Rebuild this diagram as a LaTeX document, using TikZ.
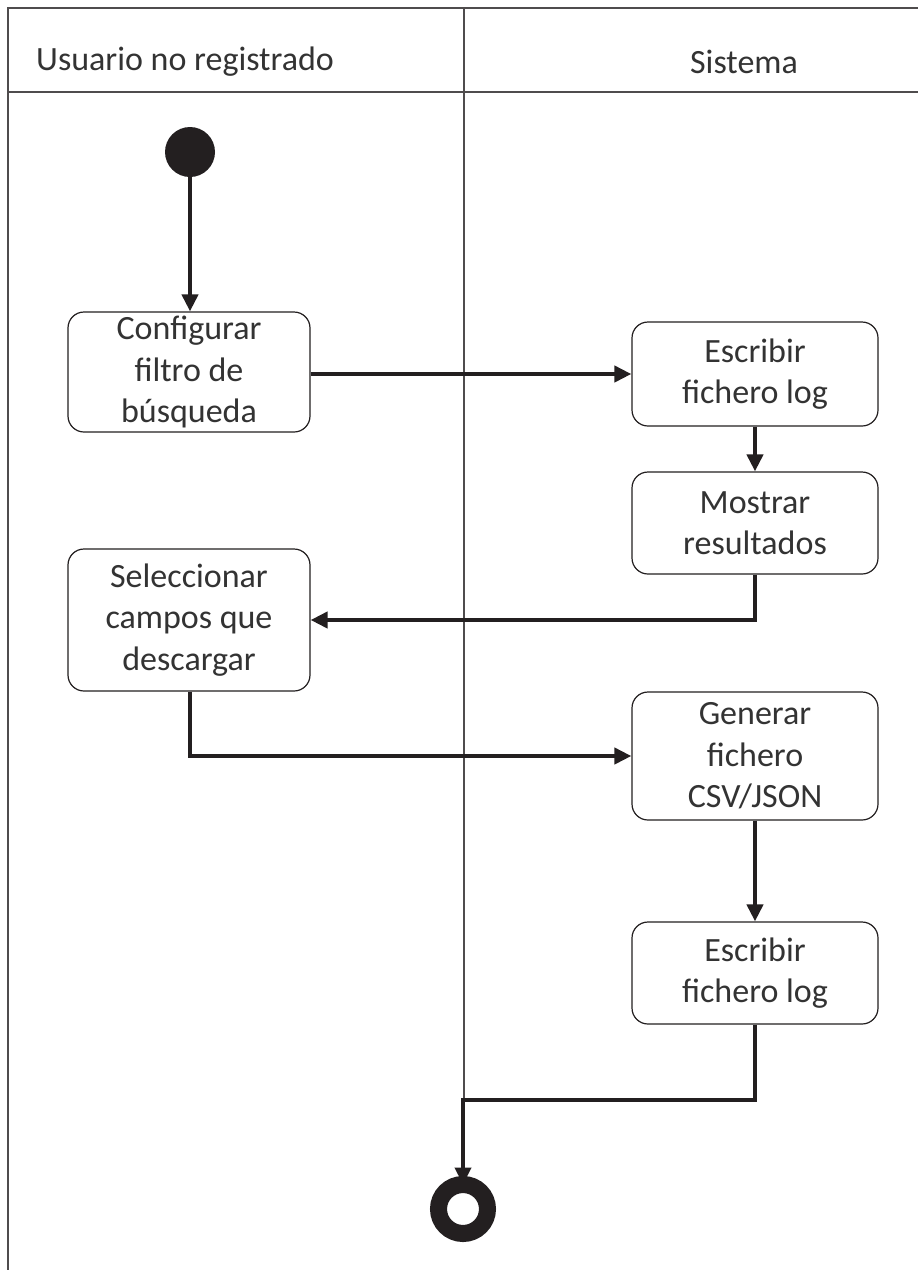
\documentclass[tikz,border=0pt]{standalone}
\usepackage{fontspec}
\setmainfont{Carlito}
\usetikzlibrary{arrows.meta}
\definecolor{ink}{HTML}{231F20}
\definecolor{txt}{HTML}{333333}
\begin{document}
\begin{tikzpicture}[x=1pt,y=-1pt,
  lane/.style={draw=ink!80,line width=1.3pt},
  action/.style={draw=ink,line width=1.2pt,rounded corners=16pt,fill=white,
    text=txt,align=center,inner sep=0pt,
    font=\fontsize{34}{41.5}\selectfont},
  flow/.style={draw=ink,line width=4pt,-{Triangle[width=16pt,length=17pt]}},
  head/.style={text=txt,font=\fontsize{34}{41.5}\selectfont,inner sep=0pt}]
\useasboundingbox (0,0) rectangle (918,1270);
\fill[white] (0,0) rectangle (918,1270);
% swimlane frame
\draw[lane] (8,1272) -- (8,8) -- (920,8);
\draw[lane] (8,92) -- (920,92);
\draw[lane] (464,8) -- (464,1100);
\node[head,anchor=west] (hu) at (36,62) {Usuario no registrado};
\node[head] (hs) at (744,62) {Sistema};
% start and end
\node[circle,fill=ink,minimum size=50pt,inner sep=0pt] (start) at (190,152) {};
\node[circle,draw=ink,line width=17pt,minimum size=49pt,inner sep=0pt] (end) at (463,1209) {};
% actions
\node[action,minimum width=242pt,minimum height=120pt] (conf) at (189,372) {Configurar\\filtro de\\búsqueda};
\node[action,minimum width=246pt,minimum height=104pt] (log1) at (755,374) {Escribir\\fichero log};
\node[action,minimum width=246pt,minimum height=102pt] (most) at (755,523) {Mostrar\\resultados};
\node[action,minimum width=242pt,minimum height=142pt] (sel) at (189,620) {Seleccionar\\campos que\\descargar};
\node[action,minimum width=246pt,minimum height=128pt] (gen) at (755,756) {Generar\\fichero\\CSV/JSON};
\node[action,minimum width=246pt,minimum height=102pt] (log2) at (755,973) {Escribir\\fichero log};
% flows
\draw[flow] (start) -- (conf.north -| start);
\draw[flow] (conf.east |- log1.west) -- (log1.west);
\draw[flow] (log1) -- (most);
\draw[flow] (most.south) |- (sel.east);
\draw[flow] (sel.south -| start) |- (gen.west);
\draw[flow] (gen) -- (log2);
\coordinate (bend) at (755,1100);
\draw[flow] (log2.south) -- (bend) -| ([yshift=-8.5pt]end.north);
\end{tikzpicture}
\end{document}
